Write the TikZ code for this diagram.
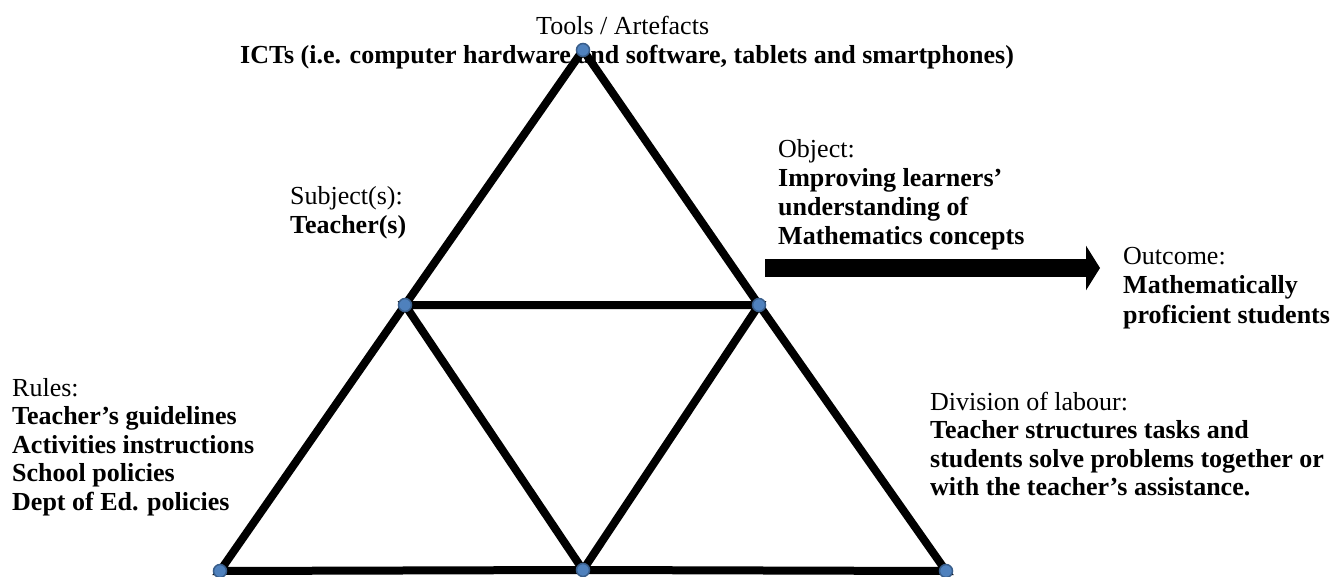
\documentclass[tikz,border=0pt]{standalone}
\usepackage{fontspec}
\setmainfont{Liberation Serif}
\usetikzlibrary{arrows.meta}
\tikzset{
  lbl/.style={anchor=base west, inner sep=0pt, font=\fontsize{26}{28.5}\selectfont},
  blbl/.style={lbl, font=\fontsize{26}{28.5}\selectfont\bfseries},
  edge/.style={line width=8pt, black, line cap=round},
  vtx/.style={circle, fill={rgb,255:red,79;green,129;blue,189}, draw={rgb,255:red,56;green,93;blue,138}, line width=1.5pt, minimum size=13pt, inner sep=0pt},
  bigarrow/.style={line width=18pt, -{Triangle[length=14pt,width=44pt]}}
}
\begin{document}
\begin{tikzpicture}[x=1pt,y=-1pt]
\useasboundingbox (0,0) rectangle (1338,577);
% texts
\node[lbl]  (tools) at (536,35) {Tools / Artefacts};
\node[blbl] (icts)  at (240,64) {ICTs (i.e. computer hardware and software, tablets and smartphones)};
\node[lbl]  (subj)  at (290,205) {Subject(s):};
\node[blbl] (teach) at (290,234) {Teacher(s)};
\node[lbl]  (obj1)  at (778,158) {Object:};
\node[blbl] (obj2)  at (778,187) {Improving learners’};
\node[blbl] (obj3)  at (778,216) {understanding of};
\node[blbl] (obj4)  at (778,245) {Mathematics concepts};
\node[lbl]  (out1)  at (1123,265) {Outcome:};
\node[blbl] (out2)  at (1123,294) {Mathematically};
\node[blbl] (out3)  at (1123,323) {proficient students};
\node[lbl]  (rul1)  at (12,396) {Rules:};
\node[blbl] (rul2)  at (12,424.5) {Teacher’s guidelines};
\node[blbl] (rul3)  at (12,453) {Activities instructions};
\node[blbl] (rul4)  at (12,481.5) {School policies};
\node[blbl] (rul5)  at (12,510) {Dept of Ed. policies};
\node[lbl]  (div1)  at (930,410) {Division of labour:};
\node[blbl] (div2)  at (930,438.5) {Teacher structures tasks and};
\node[blbl] (div3)  at (930,467) {students solve problems together or};
\node[blbl] (div4)  at (930,495.5) {with the teacher’s assistance.};
% vertices
\coordinate (A)  at (583,50);
\coordinate (L)  at (405,305);
\coordinate (R)  at (759,305);
\coordinate (BL) at (220,571);
\coordinate (BM) at (583,570);
\coordinate (BR) at (946,571);
% edges
\draw[edge] (A) -- (L) -- (BL) -- (BM) -- (BR) -- (R) -- cycle;
\draw[edge] (L) -- (R) -- (BM) -- cycle;
% arrow
\coordinate (tail) at (765,268);
\coordinate (tip)  at (1100,268);
\draw[bigarrow] (tail) -- (tip);
% dots
\foreach \p in {A,L,R,BL,BM,BR} \node[vtx] (d\p) at (\p) {};
\end{tikzpicture}
\end{document}
